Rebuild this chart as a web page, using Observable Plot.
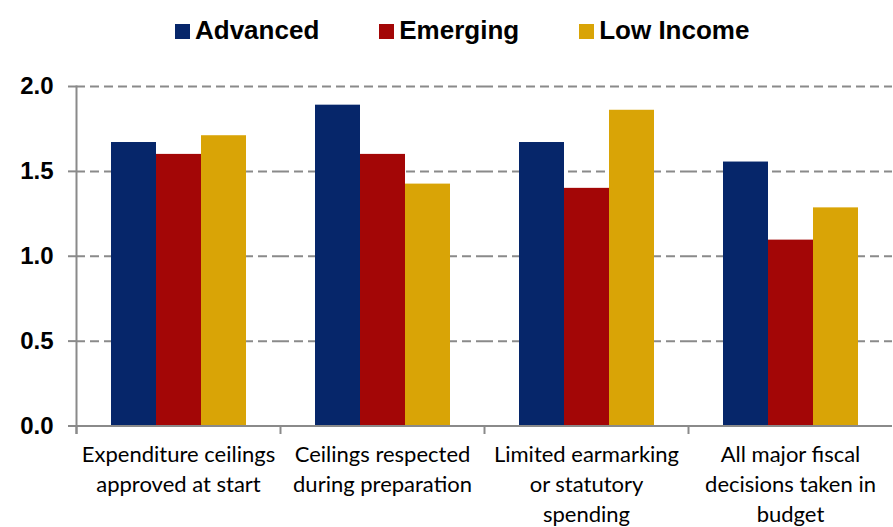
<!DOCTYPE html>
<html><head><meta charset="utf-8">
<script src="https://cdn.jsdelivr.net/npm/d3@7"></script>
<script src="https://cdn.jsdelivr.net/npm/@observablehq/plot@0.6"></script>
<style>
body{margin:0;background:#fff;}
#legend{height:60px;box-sizing:border-box;padding-top:15px;padding-left:175px;font:bold 26px "Liberation Sans",Arial,sans-serif;line-height:30px;white-space:nowrap;color:#000;}
.item{display:inline-block;margin-right:60px;}
.sw{display:inline-block;width:15px;height:15px;margin-right:5px;}
</style></head><body>
<div id="legend"></div><div id="chart"></div>
<script>
const categories = [
  "Expenditure ceilings\napproved at start",
  "Ceilings respected\nduring preparation",
  "Limited earmarking\nor statutory\nspending",
  "All major fiscal\ndecisions taken in\nbudget"
];
const series = ["Advanced", "Emerging", "Low Income"];
const advanced = [1.67, 1.89, 1.67, 1.555];
const emerging = [1.60, 1.60, 1.40, 1.095];
const lowIncome = [1.71, 1.425, 1.86, 1.285];
const colors = ["#06266A", "#A30606", "#D9A406"];
const yTicks = [0, 0.5, 1.0, 1.5, 2.0];

const valuesBySeries = [advanced, emerging, lowIncome];
const data = categories.flatMap((c, i) => series.map((s, j) => ({category: c, series: s, value: valuesBySeries[j][i]})));

const legend = document.getElementById("legend");
series.forEach((s, j) => {
  const it = document.createElement("span");
  it.className = "item";
  const sw = document.createElement("span");
  sw.className = "sw";
  sw.style.background = colors[j];
  it.appendChild(sw);
  it.appendChild(document.createTextNode(s));
  legend.appendChild(it);
});

const gray = "#8a8a8a";
const chart = Plot.plot({
  width: 893, height: 467,
  marginLeft: 75, marginRight: 0, marginTop: 26, marginBottom: 101.5,
  style: {fontFamily: "'Liberation Sans', Arial, sans-serif", overflow: "visible", background: "#fff"},
  fx: {domain: categories, paddingInner: 0, paddingOuter: 0, axis: null},
  x: {domain: series, paddingInner: 0, paddingOuter: 0.74, axis: null},
  y: {domain: [0, 2], axis: null},
  color: {domain: series, range: colors},
  marks: [
    Plot.ruleY(yTicks.filter(d => d > 0), {stroke: gray, strokeWidth: 2, strokeDasharray: "9,5"}),
    Plot.barY(data, {fx: "category", x: "series", y: "value", fill: "series"}),
    Plot.ruleY([0], {stroke: gray, strokeWidth: 2}),
    Plot.frame({anchor: "left", fx: () => categories[0], stroke: gray, strokeWidth: 2, insetBottom: -7}),
    Plot.frame({anchor: "left", stroke: gray, strokeWidth: 2, insetTop: 339.5, insetBottom: -7}),
    Plot.axisY({ticks: yTicks, label: null, tickSize: 8, tickPadding: 15, tickFormat: d => d.toFixed(1), fontSize: 24, fontWeight: "bold", color: "black", stroke: gray, strokeWidth: 2}),
    Plot.text(categories, {fx: d => d, text: d => d, frameAnchor: "bottom", lineAnchor: "top", dy: 15, fontSize: 22, lineHeight: 1.364, fontFamily: "Lato, sans-serif", fill: "black"})
  ]
});
document.getElementById("chart").appendChild(chart);
</script>
</body></html>
